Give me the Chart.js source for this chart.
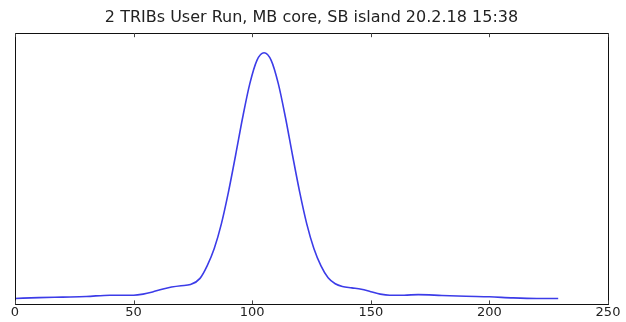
<!DOCTYPE html>
<html>
<head>
<meta charset="utf-8">
<script src="https://cdn.jsdelivr.net/npm/chart.js@4/dist/chart.umd.min.js"></script>
<style>
  html, body { margin: 0; padding: 0; background: #fff; }
  #wrap { width: 626px; height: 322px; }
</style>
</head>
<body>
<div id="wrap"><canvas id="chart" width="626" height="322"></canvas></div>
<script>
// --- Data ---
const title = '2 TRIBs User Run, MB core, SB island 20.2.18 15:38';
const xTicks = [0, 50, 100, 150, 200, 250];
const xValues = [0, 10, 20, 30, 40, 50, 54, 58, 62, 66, 70, 74, 78, 81, 84, 87, 90, 93, 96, 99, 102,
    105, 108, 111, 114, 117, 120, 123, 126, 129, 132, 135, 138, 142, 146, 150, 154, 158, 164,
    170, 180, 190, 200, 210, 220, 229];
const yValues = [2.2, 2.5, 2.7, 2.9, 3.4, 3.4, 3.8, 4.6, 5.6, 6.4, 6.9, 7.3, 9.6, 14.2, 20.6, 29.7, 41.5, 55, 69, 81.4, 90,
    92.8, 90, 81.4, 69, 55, 41.5, 29.7, 20.6, 14.2, 9.8, 7.6, 6.6, 6.1, 5.6, 4.7, 3.8, 3.4, 3.4,
    3.6, 3.3, 3.0, 2.8, 2.4, 2.2, 2.2];

const points = xValues.map((x, i) => ({ x: x, y: yValues[i] }));

// Matplotlib-like frame with inward ticks on top and bottom
const framePlugin = {
    id: 'frame',
    afterDatasetsDraw(chart) {
        const { ctx, chartArea: a } = chart;
        const xs = chart.scales.x;
        ctx.save();
        ctx.strokeStyle = '#111';
        ctx.lineWidth = 1;
        ctx.strokeRect(Math.round(a.left) + 0.5, Math.round(a.top) + 0.5,
            Math.round(a.right - a.left), Math.round(a.bottom - a.top));
        ctx.strokeStyle = '#444';
        ctx.beginPath();
        xTicks.forEach(v => {
            const px = Math.round(xs.getPixelForValue(v)) + 0.5;
            ctx.moveTo(px, a.bottom);
            ctx.lineTo(px, a.bottom - 4);
            ctx.moveTo(px, a.top);
            ctx.lineTo(px, a.top + 4);
        });
        ctx.stroke();
        ctx.restore();
    }
};

new Chart(document.getElementById('chart').getContext('2d'), {
    type: 'line',
    data: {
        datasets: [{
            data: points,
            borderColor: 'rgb(60, 60, 232)',
            borderWidth: 1.6,
            cubicInterpolationMode: 'monotone',
            pointRadius: 0,
            fill: false
        }]
    },
    options: {
        responsive: false,
        animation: false,
        layout: { padding: { left: 15, right: 18, top: 0, bottom: 2 } },
        scales: {
            x: {
                type: 'linear',
                min: 0,
                max: 250,
                afterBuildTicks: (scale) => { scale.ticks = xTicks.map(v => ({ value: v })); },
                grid: { display: false, drawTicks: false },
                border: { display: false },
                ticks: {
                    padding: 0,
                    color: '#222',
                    font: { family: 'DejaVu Sans', size: 13 },
                    maxRotation: 0
                }
            },
            y: {
                display: false,
                min: 0,
                max: 100
            }
        },
        plugins: {
            legend: { display: false },
            tooltip: { enabled: false },
            title: {
                display: true,
                text: title,
                color: '#222',
                font: { family: 'DejaVu Sans', size: 16, weight: 'normal' },
                padding: { top: 8, bottom: 6 }
            }
        }
    },
    plugins: [framePlugin]
});
</script>
</body>
</html>
